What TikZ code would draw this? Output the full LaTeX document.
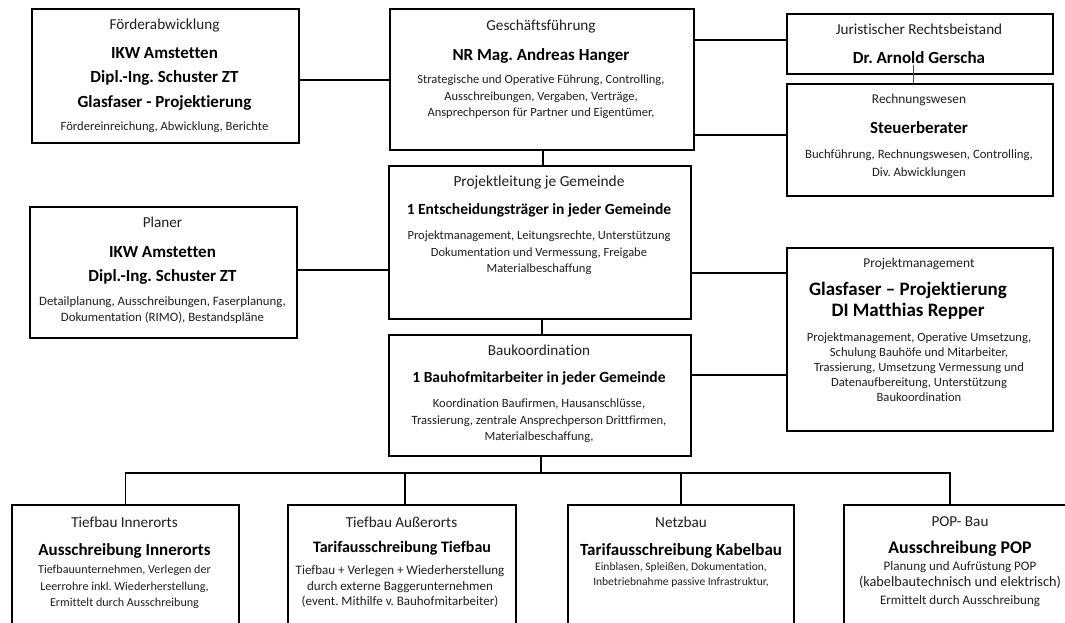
\documentclass[tikz,border=0pt]{standalone}
\usepackage{fontspec}
\setmainfont{Carlito}[Ligatures=NoCommon]
\frenchspacing
\begin{document}
\begin{tikzpicture}[x=1pt,y=-1pt,
  box/.style={draw=black,line width=1.8pt,anchor=north west,inner sep=0pt},
  conn/.style={line width=1.8pt},
  ttl/.style={anchor=base,yshift={-0.3*#1pt},inner sep=0pt,text=black!88,font=\fontsize{#1}{#1}\selectfont},
  ttl/.default=15.2,
  bld/.style={anchor=base,yshift={-0.3*#1pt},inner sep=0pt,text=black,font=\bfseries\fontsize{#1}{#1}\selectfont},
  bld/.default=17,
  sml/.style={anchor=base,yshift={-0.3*#1pt},inner sep=0pt,text=black!88,font=\fontsize{#1}{#1}\selectfont},
  sml/.default=12.6]
\useasboundingbox (0,0) rectangle (1065,622);
\clip (0,0) rectangle (1065,622);
\fill[white] (0,0) rectangle (1065,622);

% boxes
\node[box,minimum width=267pt,minimum height=134pt] (ford) at (31,8) {};
\node[box,minimum width=304pt,minimum height=141pt] (gf) at (389,8) {};
\node[box,minimum width=266pt,minimum height=60pt] (jur) at (786,13) {};
\node[box,minimum width=266pt,minimum height=112pt] (rech) at (786,83) {};
\node[box,minimum width=267pt,minimum height=131pt] (plan) at (29,206) {};
\node[box,minimum width=302pt,minimum height=153pt] (pl) at (388,165) {};
\node[box,minimum width=266pt,minimum height=183pt] (pm) at (786,247) {};
\node[box,minimum width=302pt,minimum height=121pt] (bk) at (388,334) {};
\node[box,minimum width=227pt,minimum height=140pt] (ti) at (11,504) {};
\node[box,minimum width=228pt,minimum height=140pt] (ta) at (287,504) {};
\node[box,minimum width=226pt,minimum height=140pt] (nb) at (567,504) {};
\node[box,minimum width=234pt,minimum height=140pt] (pop) at (843,504) {};

% Foerderabwicklung
\node[ttl] (ford-t) at (164.5,25) {Förderabwicklung};
\node[bld] (ford-b1) at (164.5,53) {IKW Amstetten};
\node[bld] (ford-b2) at (164.5,77) {Dipl.-Ing. Schuster ZT};
\node[bld] (ford-b3) at (164.5,102) {Glasfaser - Projektierung};
\node[sml] (ford-s1) at (164.5,127) {Fördereinreichung, Abwicklung, Berichte};

% Geschaeftsfuehrung
\node[ttl] (gf-t) at (541,26) {Geschäftsführung};
\node[bld] (gf-b1) at (541,55) {NR Mag. Andreas Hanger};
\node[sml=12.5] (gf-s1) at (541,80) {Strategische und Operative Führung, Controlling,};
\node[sml=12.5] (gf-s2) at (541,97) {Ausschreibungen, Vergaben, Verträge,};
\node[sml=12.5] (gf-s3) at (541,113) {Ansprechperson für Partner und Eigentümer,};

% Juristischer Rechtsbeistand
\node[ttl] (jur-t) at (919,30) {Juristischer Rechtsbeistand};
\node[bld] (jur-b1) at (919,58) {Dr. Arnold Gerscha};

% Rechnungswesen
\node[ttl=13.4] (rech-t) at (919,99) {Rechnungswesen};
\node[bld] (rech-b1) at (919,128) {Steuerberater};
\node[sml=12.7] (rech-s1) at (919,155) {Buchführung, Rechnungswesen, Controlling,};
\node[sml=12.7] (rech-s2) at (919,173) {Div. Abwicklungen};

% Planer
\node[ttl] (plan-t) at (162.5,223) {Planer};
\node[bld] (plan-b1) at (162.5,252) {IKW Amstetten};
\node[bld] (plan-b2) at (162.5,276) {Dipl.-Ing. Schuster ZT};
\node[sml=12.8] (plan-s1) at (162.5,302) {Detailplanung, Ausschreibungen, Faserplanung,};
\node[sml=12.8] (plan-s2) at (162.5,318) {Dokumentation (RIMO), Bestandspläne};

% Projektleitung
\node[ttl=15.4] (pl-t) at (539,182) {Projektleitung je Gemeinde};
\node[bld=15.5] (pl-b1) at (539,210) {1 Entscheidungsträger in jeder Gemeinde};
\node[sml=12.5] (pl-s1) at (539,236) {Projektmanagement, Leitungsrechte, Unterstützung};
\node[sml=12.5] (pl-s2) at (539,253) {Dokumentation und Vermessung, Freigabe};
\node[sml=12.5] (pl-s3) at (539,269) {Materialbeschaffung};

% Projektmanagement
\node[ttl=13.4] (pm-t) at (919,263) {Projektmanagement};
\node[bld=19] (pm-b1) at (908,290) {Glasfaser – Projektierung};
\node[bld=19] (pm-b2) at (908,311) {DI Matthias Repper};
\node[sml] (pm-s1) at (919,338) {Projektmanagement, Operative Umsetzung,};
\node[sml] (pm-s2) at (919,353) {Schulung Bauhöfe und Mitarbeiter,};
\node[sml] (pm-s3) at (919,368) {Trassierung, Umsetzung Vermessung und};
\node[sml] (pm-s4) at (919,383) {Datenaufbereitung, Unterstützung};
\node[sml] (pm-s5) at (919,398) {Baukoordination};

% Baukoordination
\node[ttl] (bk-t) at (539,351) {Baukoordination};
\node[bld=15.5] (bk-b1) at (539,378) {1 Bauhofmitarbeiter in jeder Gemeinde};
\node[sml] (bk-s1) at (539,404) {Koordination Baufirmen, Hausanschlüsse,};
\node[sml] (bk-s2) at (539,421) {Trassierung, zentrale Ansprechperson Drittfirmen,};
\node[sml] (bk-s3) at (539,437) {Materialbeschaffung,};

% Tiefbau Innerorts
\node[ttl] (ti-t) at (124.5,523) {Tiefbau Innerorts};
\node[bld] (ti-b1) at (124.5,550) {Ausschreibung Innerorts};
\node[sml=12.1] (ti-s1) at (124.5,570) {Tiefbauunternehmen, Verlegen der};
\node[sml=12.1] (ti-s2) at (124.5,587) {Leerrohre inkl. Wiederherstellung,};
\node[sml=12.1] (ti-s3) at (124.5,603) {Ermittelt durch Ausschreibung};

% Tiefbau Ausserorts
\node[ttl] (ta-t) at (401.5,523) {Tiefbau Außerorts};
\node[bld=16] (ta-b1) at (402,548) {Tarifausschreibung Tiefbau};
\node[sml=13] (ta-s1) at (400,571) {Tiefbau + Verlegen + Wiederherstellung};
\node[sml=13] (ta-s2) at (400,587) {durch externe Baggerunternehmen};
\node[sml=13] (ta-s3) at (400,602) {(event. Mithilfe v. Bauhofmitarbeiter)};

% Netzbau
\node[ttl] (nb-t) at (681,523) {Netzbau};
\node[bld] (nb-b1) at (681,550) {Tarifausschreibung Kabelbau};
\node[sml=11.5] (nb-s1) at (681,567) {Einblasen, Spleißen, Dokumentation,};
\node[sml=11.5] (nb-s2) at (681,582) {Inbetriebnahme passive Infrastruktur,};

% POP-Bau
\node[ttl] (pop-t) at (960,522) {POP- Bau};
\node[bld=17.8] (pop-b1) at (960,548) {Ausschreibung POP};
\node[sml=13] (pop-s1) at (960,567) {Planung und Aufrüstung POP};
\node[sml=14.3] (pop-s2) at (960,582) {(kabelbautechnisch und elektrisch)};
\node[sml=13] (pop-s3) at (960,601) {Ermittelt durch Ausschreibung};

% connectors
\draw[conn] (ford.east |- 0,80) -- (gf.west |- 0,80);
\draw[conn] (gf.east |- 0,40) -- (jur.west |- 0,40);
\draw[conn] (gf.east |- 0,135) -- (rech.west |- 0,135);
\draw[line width=0.6pt,black!70] ([xshift=-7pt,yshift=10pt]jur.south) -- ([xshift=-7pt]rech.north);
\draw[conn] (gf.south -| 543,0) -- (pl.north -| 543,0);
\draw[conn] (plan.east |- 0,270) -- (pl.west |- 0,270);
\draw[conn] (pl.east |- 0,273) -- (pm.west |- 0,273);
\draw[conn] (bk.east |- 0,375) -- (pm.west |- 0,375);
\draw[conn] (pl.south -| 542,0) -- (bk.north -| 542,0);
\coordinate (bus) at (541,473);
\coordinate (popdrop) at (950,473);
\draw[conn] (bk.south -| bus) -- (bus);
\draw[conn] (ti.north) -- (ti.north |- bus) -- (popdrop) -- (pop.north -| popdrop);
\draw[conn] ([xshift=3pt]ta.north |- bus) -- ([xshift=3pt]ta.north);
\draw[conn] (nb.north |- bus) -- (nb.north);
\end{tikzpicture}
\end{document}
